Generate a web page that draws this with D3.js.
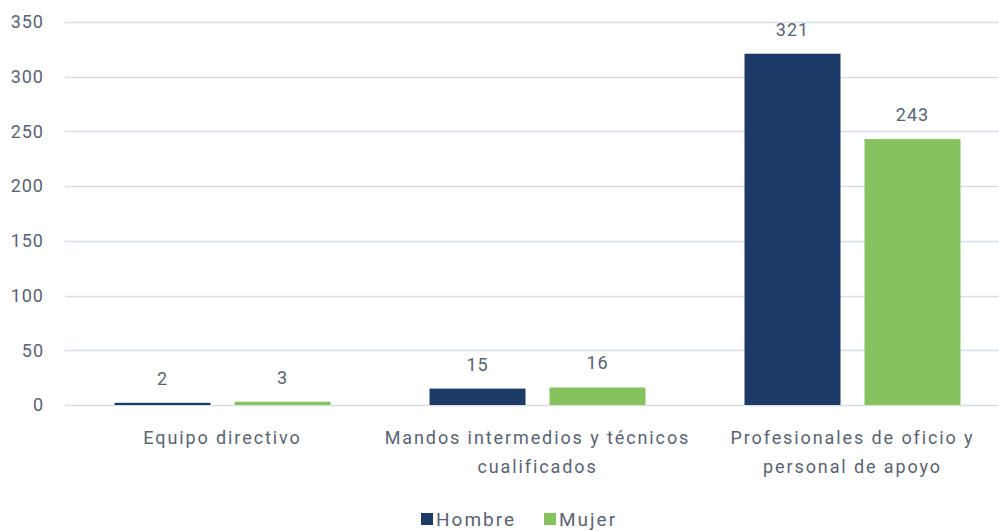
<!DOCTYPE html>
<html>
<head>
<meta charset="utf-8">
<script src="https://cdn.jsdelivr.net/npm/d3@7"></script>
<style>
  body { margin: 0; background: #fff; }
  text { font-family: Roboto, "DejaVu Sans", sans-serif; fill: #5a6373; }
</style>
</head>
<body>
<div id="chart"></div>
<script>
//Data
var categories = [["Equipo directivo"], ["Mandos intermedios y técnicos", "cualificados"], ["Profesionales de oficio y", "personal de apoyo"]];
var series = ["Hombre", "Mujer"];
var hombre = [2, 15, 321];
var mujer = [3, 16, 243];
var yTicks = [0, 50, 100, 150, 200, 250, 300, 350];
var colors = ["#1b3a66", "#86c35e"];

var W = 999, H = 531;
var plotLeft = 65, plotRight = 1010, plotTop = 22, plotBottom = 405;

var svg = d3.select("#chart").append("svg")
  .attr("width", W).attr("height", H);

//Scales
var keys = categories.map(function(c, i) { return i; });
var x0 = d3.scaleBand().domain(keys).range([plotLeft, plotRight]);
var x1 = d3.scaleBand().domain(series).range([49.5, x0.bandwidth() - 49.5]).paddingInner(0.2);
var y = d3.scaleLinear().domain([0, 350]).range([plotBottom, plotTop]);

//Gridlines
svg.append("g").selectAll("line")
  .data(yTicks).enter().append("line")
  .attr("x1", plotLeft).attr("x2", W)
  .attr("y1", function(d) { return Math.round(y(d)) + 0.5; })
  .attr("y2", function(d) { return Math.round(y(d)) + 0.5; })
  .attr("stroke", "#d9dfe5").attr("stroke-width", 1.3);

//Y axis labels
var yAxis = d3.axisLeft(y).tickValues(yTicks).tickSize(0).tickPadding(0);
var yg = svg.append("g").attr("transform", "translate(44,0)").call(yAxis);
yg.select(".domain").remove();
yg.selectAll("text").style("font-size", "18px").attr("fill", "#5a6373")
  .style("font-family", "Roboto, sans-serif").style("letter-spacing", "1px");

//Bars
var rows = keys.map(function(i) {
  return [{s: "Hombre", v: hombre[i]}, {s: "Mujer", v: mujer[i]}];
});
var groups = svg.selectAll(".grp").data(rows).enter().append("g")
  .attr("class", "grp")
  .attr("transform", function(d, i) { return "translate(" + x0(i) + ",0)"; });

groups.selectAll("rect").data(function(d) { return d; }).enter().append("rect")
  .attr("x", function(d) { return x1(d.s); })
  .attr("width", x1.bandwidth())
  .attr("y", function(d) { return y(d.v); })
  .attr("height", function(d) { return y(0) - y(d.v); })
  .attr("fill", function(d, i) { return colors[i]; });

groups.selectAll(".val").data(function(d) { return d; }).enter().append("text")
  .attr("class", "val")
  .attr("x", function(d) { return x1(d.s) + x1.bandwidth() / 2; })
  .attr("y", function(d) { return y(d.v) - 18; })
  .attr("text-anchor", "middle")
  .style("font-size", "18px")
  .style("letter-spacing", "1px")
  .text(function(d) { return d.v; });

//Category labels
var labels = svg.selectAll(".cat").data(categories).enter().append("text")
  .attr("class", "cat")
  .attr("text-anchor", "middle")
  .style("font-size", "18px")
  .style("letter-spacing", "1.9px");
labels.selectAll("tspan").data(function(d, i) { return d.map(function(t) { return {t: t, i: i}; }); })
  .enter().append("tspan")
  .attr("x", function(d) { return x0(d.i) + x0.bandwidth() / 2; })
  .attr("y", function(d, j) { return 444 + j * 29; })
  .text(function(d) { return d.t; });

//Legend
var legend = svg.append("g");
var lx = [421, 544];
series.forEach(function(s, i) {
  legend.append("rect").attr("x", lx[i]).attr("y", 513).attr("width", 12).attr("height", 12)
    .attr("fill", colors[i]);
  legend.append("text").attr("x", lx[i] + 15).attr("y", 526)
    .style("font-size", "19px").style("letter-spacing", "2px").text(s);
});
</script>
</body>
</html>
